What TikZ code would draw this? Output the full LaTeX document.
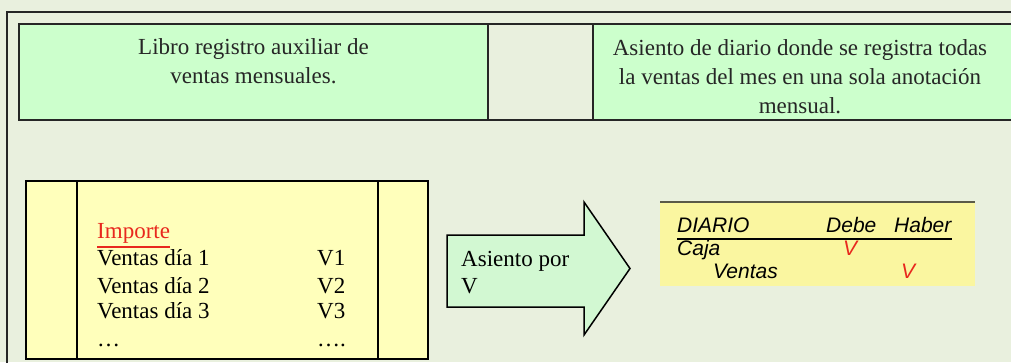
\documentclass[tikz,border=0pt]{standalone}
\usepackage{fontspec}
\setmainfont{Liberation Serif}
\newfontfamily\diariofont{Liberation Sans}
\usetikzlibrary{positioning}
\definecolor{fondo}{HTML}{E9F0DE}
\definecolor{verde}{HTML}{CCFFCC}
\definecolor{amarillo}{HTML}{FFFFBB}
\definecolor{amarillodiario}{HTML}{FAF6A0}
\definecolor{flecha}{HTML}{D2F8D2}
\definecolor{rojo}{HTML}{E8281E}
\definecolor{oliva}{HTML}{5A5A48}

\begin{document}
\begin{tikzpicture}[x=1pt, y=-1pt,
		celda/.style={draw=black!85, line width=2pt, minimum height=96pt, inner sep=0pt},
		texto/.style={font=\fontsize{23}{29}\selectfont, text=black!85, inner sep=0pt, align=center},
		libro/.style={font=\fontsize{23}{27}\selectfont, inner sep=0pt, anchor=base west},
		diario/.style={font=\diariofont\itshape\fontsize{21}{24}\selectfont, inner sep=0pt, anchor=base west}]
			\clip (0,0) rectangle (1011,362);
			\fill [fondo] (0,0) rectangle (1011,362);
			% marco exterior
			\draw [black!85, line width=2pt] (7,380) -- (7,12) -- (1030,12);
			% fila superior
			\node [celda, fill=verde, minimum width=469pt] (auxiliar) at (253.5,72) {};
			\node [celda, fill=fondo, minimum width=105pt] (hueco) at (540.5,72) {};
			\node [celda, fill=verde, minimum width=437pt] (asiento) at (811.5,72) {};
			\node [texto] (auxtxt) at (253.5,61) {Libro registro auxiliar de\\ventas mensuales.};
			\node [texto] (asitxt) at (800,77) {Asiento de diario donde se registra todas\\la ventas del mes en una sola anotación\\mensual.};
			% libro auxiliar
			\draw [line width=1.5pt, fill=amarillo] (26,181) rectangle (428,359);
			\draw [line width=1.5pt] (77,181) -- (77,359);
			\draw [line width=1.5pt] (378,181) -- (378,359);
			\node [libro, text=rojo] (importe) at (97,238) {Importe};
			\draw [rojo, line width=1.5pt] ([yshift=-4pt]importe.south west) -- ([yshift=-4pt]importe.south east);
			\node [libro] (dia1) at (97,265) {Ventas día 1};
			\node [libro] (dia2) at (97,293) {Ventas día 2};
			\node [libro] (dia3) at (97,318) {Ventas día 3};
			\node [libro] (puntos) at (97,346) {…};
			\node [libro] (v1) at (317,265) {V1};
			\node [libro] (v2) at (317,293) {V2};
			\node [libro] (v3) at (317,318) {V3};
			\node [libro] (vpuntos) at (317,346) {….};
			% flecha
			\draw [line width=1.5pt, fill=flecha, line join=miter] (447,235) -- (584,235) -- (584,202) -- (630,268.5) -- (584,335) -- (584,307) -- (447,307) -- cycle;
			\node [libro, align=left, anchor=west] (porv) at (461,273) {Asiento por\\V};
			% diario
			\fill [amarillodiario] (660,202) rectangle (975,286);
			\draw [oliva, line width=2pt] (660,202) -- (975,202);
			\node [diario] (diariotxt) at (677,232) {DIARIO};
			\node [diario] (debe) at (826,232) {Debe};
			\node [diario] (haber) at (894,232) {Haber};
			\draw [line width=2pt] ([yshift=-7pt]diariotxt.base west) -- ([yshift=-7pt]haber.base east);
			\node [diario] (caja) at (677,255) {Caja};
			\node [diario] (ventas) at (713,278) {Ventas};
			\node [diario, anchor=base, text=rojo] (vdebe) at (850,255) {V};
			\node [diario, anchor=base, text=rojo] (vhaber) at (908,278) {V};
	\end{tikzpicture}
\end{document}
